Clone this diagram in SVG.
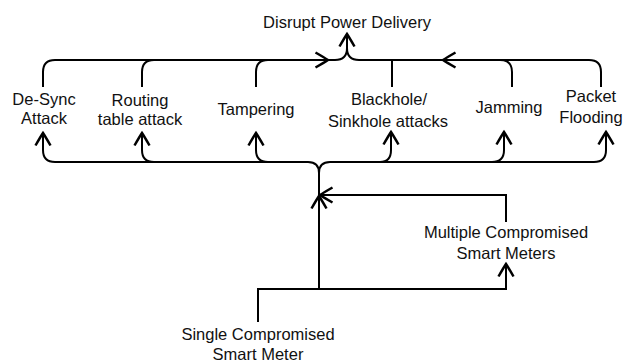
<svg xmlns="http://www.w3.org/2000/svg" width="624" height="362" viewBox="0 0 624 362">
<defs>
<marker id="arr" markerUnits="userSpaceOnUse" markerWidth="20" markerHeight="20" refX="0" refY="0" viewBox="-12 -8 14 16" orient="auto" overflow="visible">
<path d="M-10,-6 Q-3,-2 0,0 Q-3,2 -10,6" fill="none" stroke="#000" stroke-width="2"/>
</marker>
</defs>
<style>
.e{fill:none;stroke:#000;stroke-width:2}
.a{marker-end:url(#arr)}
text{font-family:"Liberation Sans",Arial,sans-serif;font-size:16.5px;fill:#111;text-anchor:middle}
</style>
<rect width="624" height="362" fill="#fff"/>
<g id="connectors">
<path class="e a" d="M43,87 V72 Q43,60 55,60 H335 Q347,60 347,48 V34"/>
<path class="e" d="M142,87 V72 Q142,60 154,60"/>
<path class="e" d="M256,87 V72 Q256,60 268,60"/>
<path class="e" d="M392,87 V60"/>
<path class="e" d="M512,87 V72 Q512,60 500,60"/>
<path class="e" d="M601,87 V72 Q601,60 589,60 H359 Q347,60 347,48"/>
<path class="e a" d="M316,60 H328"/>
<path class="e a" d="M455,60 H443"/>
<path class="e a" d="M319,289 V173 Q319,162 308,162 H55 Q43,162 43,150 V133"/>
<path class="e a" d="M154,162 Q142,162 142,150 V133"/>
<path class="e a" d="M268,162 Q256,162 256,150 V133"/>
<path class="e a" d="M319,173 Q319,162 330,162 H594 Q606,162 606,150 V132"/>
<path class="e a" d="M380,162 Q391,162 391,150 V132"/>
<path class="e a" d="M492,162 Q504,162 504,150 V132"/>
<path class="e a" d="M258,322 V289 H506 V264"/>
<path class="e a" d="M319,210 V196"/>
<path class="e a" d="M506,222 V195 H320"/>
</g>
<g id="disrupt"><text x="347" y="28">Disrupt Power Delivery</text></g>
<g id="desync"><text x="44" y="105">De-Sync</text><text x="44" y="124">Attack</text></g>
<g id="routing"><text x="140" y="106">Routing</text><text x="140" y="125">table attack</text></g>
<g id="tampering"><text x="256" y="115">Tampering</text></g>
<g id="blackhole"><text x="389" y="105">Blackhole/</text><text x="388" y="127">Sinkhole attacks</text></g>
<g id="jamming"><text x="509" y="113">Jamming</text></g>
<g id="packet"><text x="591" y="102">Packet</text><text x="591" y="123">Flooding</text></g>
<g id="multiple"><text x="506" y="238">Multiple Compromised</text><text x="506" y="259">Smart Meters</text></g>
<g id="single"><text x="258" y="340">Single Compromised</text><text x="258" y="360">Smart Meter</text></g>
</svg>
